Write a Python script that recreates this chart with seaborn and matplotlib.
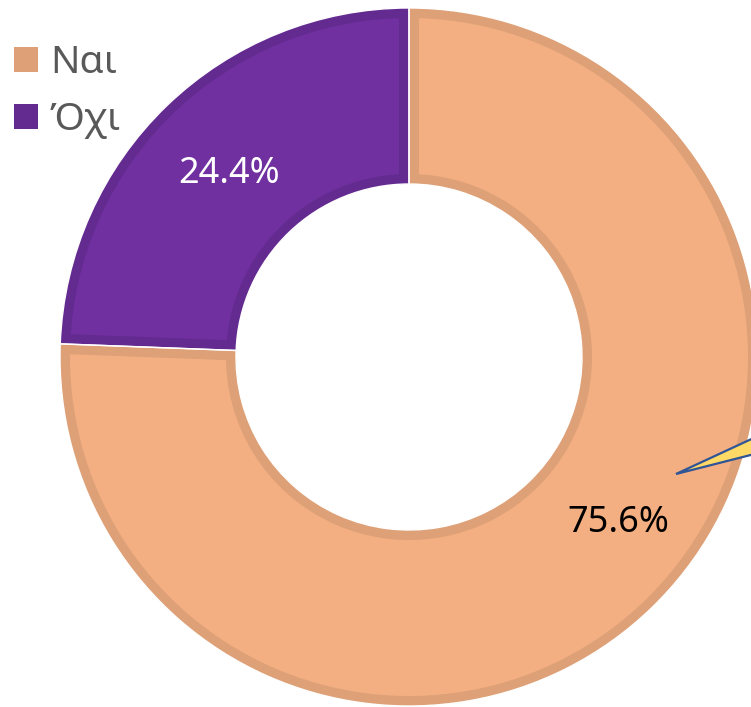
import matplotlib.pyplot as plt
import seaborn as sns
from matplotlib.patches import Patch, Polygon, Wedge

sns.set_theme(style="white")
plt.rcParams["font.family"] = ["Noto Sans", "DejaVu Sans"]

# data
labels = ["Ναι", "Όχι"]
values = [75.6, 24.4]
fills = ["#F3AF81", "#7030A0"]
edges = ["#DDA077", "#632A90"]

W, H = 751, 707
fig = plt.figure(figsize=(W / 100, H / 100), dpi=100)
ax = fig.add_axes([0, 0, 1, 1])

center = (409, H - 357)
radius = 349
ring = 176

wedges, _, pcts = ax.pie(
    values,
    colors=fills,
    startangle=90,
    counterclock=False,
    radius=radius,
    center=center,
    autopct="%.1f%%",
    pctdistance=0.745,
    wedgeprops=dict(width=ring, linewidth=0),
    textprops=dict(fontsize=26, va="center_baseline"),
)

# darker inner border on each slice: wide stroke clipped to a copy of the slice
for w, ec in zip(wedges, edges):
    border = Wedge(w.center, w.r, w.theta1, w.theta2, width=w.width,
                   facecolor="none", edgecolor=ec, linewidth=14.4,
                   transform=ax.transData, zorder=w.get_zorder() + 0.1)
    clip = Wedge(w.center, w.r, w.theta1, w.theta2, width=w.width,
                 transform=ax.transData)
    ax.add_patch(border)
    border.set_clip_path(clip)
    # thin white separator along the slice outline
    ax.add_patch(Wedge(w.center, w.r, w.theta1, w.theta2, width=w.width,
                       facecolor="none", edgecolor="white", linewidth=1.0,
                       transform=ax.transData, zorder=w.get_zorder() + 0.2))

pcts[0].set_color("black")
pcts[1].set_color("white")
for t in pcts:
    t.set_zorder(6)
# the "Ναι" label was dragged away from the slice middle, with a callout tail
pcts[0].set_position((618, H - 519))
tip = (676, H - 474)
ax.add_patch(Polygon(
    [tip, (tip[0] + 110, tip[1] + 51), (tip[0] + 110, tip[1] + 28)],
    closed=True, facecolor="#FFD966", edgecolor="#2F5597", linewidth=1.6,
    joinstyle="miter", zorder=5,
))

ax.set_xlim(0, W)
ax.set_ylim(0, H)
ax.set_aspect("equal")
ax.axis("off")

handles = [Patch(facecolor=e, edgecolor="none") for e in edges]
leg = ax.legend(
    handles, labels,
    loc="upper left", bbox_to_anchor=(14 / W, 1 - 44 / H),
    frameon=False, fontsize=28,
    handlelength=0.62, handleheight=0.62, handletextpad=0.3,
    labelspacing=0.5, borderpad=0, borderaxespad=0,
)
for t in leg.get_texts():
    t.set_color("#595959")

fig.savefig("out.png", dpi=100)
